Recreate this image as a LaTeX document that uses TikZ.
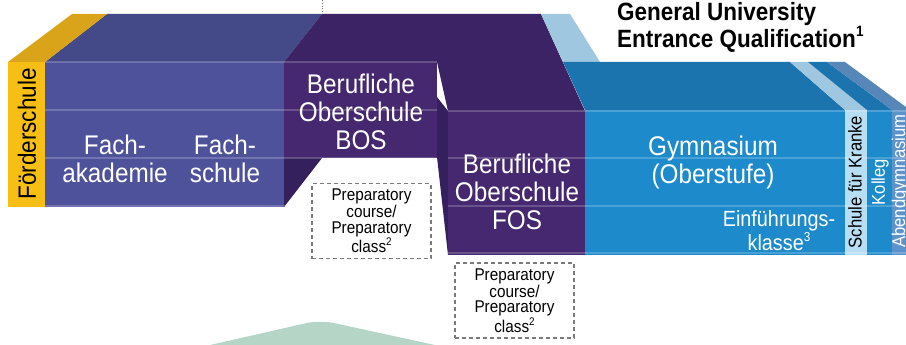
\documentclass[tikz,border=0pt]{standalone}
\usepackage{fontspec}
\setmainfont{Liberation Sans}[FakeStretch=0.9]
\definecolor{yelfront}{HTML}{F7BE13}
\definecolor{yeltop}{HTML}{D9A41A}
\definecolor{fachfront}{HTML}{4E529B}
\definecolor{fachtop}{HTML}{434A87}
\definecolor{purpfront}{HTML}{45286F}
\definecolor{purptop}{HTML}{3B2366}
\definecolor{purpdark}{HTML}{33205C}
\definecolor{gymfront}{HTML}{1D8ACB}
\definecolor{gymtop}{HTML}{1B74AE}
\definecolor{ltbluetop}{HTML}{9FC8E0}
\definecolor{sfkfront}{HTML}{B8DEF4}
\definecolor{abendfront}{HTML}{5C93CA}
\definecolor{abendtop}{HTML}{5787B8}
\definecolor{boxgray}{HTML}{7A7A7A}
\definecolor{hillgreen}{HTML}{B5D6C6}
\newcommand{\supnum}[2][11]{\raisebox{0.42em}{\fontsize{#1}{#1}\selectfont #2}}

\begin{document}
\begin{tikzpicture}[x=1pt,y=-1pt,
  lbl/.style={text=white,align=center,inner sep=0pt,font=\fontsize{27}{28}\selectfont},
  sidelbl/.style={rotate=90,inner sep=0pt,font=\fontsize{18.5}{20}\selectfont},
  prepbox/.style={draw=boxgray,line width=1.2pt,dash pattern=on 4pt off 3pt,
    minimum width=119pt,minimum height=75pt,inner sep=0pt,align=center,
    font=\fontsize{17}{15.6}\selectfont},
  rowline/.style={white,opacity=0.2,line width=1.3pt}]
  \useasboundingbox (0,0) rectangle (906,345);

  \fill[hillgreen,rounded corners=14pt] (188,350) -- (320,320) -- (458,350) -- cycle;
  \draw[boxgray,dotted,line width=0.8pt] (322,0) -- (322,13);

  \fill[fachtop] (45,62) -- (284,62) -- (322,14) -- (107,14) -- cycle;
  \fill[yeltop] (8,62) -- (45,62) -- (107,14) -- (72,14) -- cycle;
  \fill[yelfront] (8,62) rectangle (45,207);
  \fill[fachfront] (45,62) rectangle (285,207);
  \fill[purpdark] (284,158) -- (322,158) -- (284,207) -- cycle;

  \fill[purptop] (322,14) -- (541,14) -- (585,111) -- (448,111) -- (437,62) -- (284,62) -- cycle;
  \fill[ltbluetop] (541,14) -- (570,14) -- (600,62) -- (563,62) -- cycle;
  \fill[gymtop] (563,62) -- (790,62) -- (845,110) -- (585,110) -- cycle;
  \fill[ltbluetop] (790,62) -- (808,62) -- (867,110) -- (845,110) -- cycle;
  \fill[gymtop] (808,62) -- (827,62) -- (892,110) -- (867,110) -- cycle;
  \fill[abendtop] (827,62) -- (845,62) -- (910,110) -- (892,110) -- cycle;
  \fill[purpdark] (437,97) -- (448,111) -- (448,255) -- (437,157) -- cycle;

  \fill[purpfront] (284,62) rectangle (437,158);
  \fill[purpfront] (448,111) rectangle (585,255);
  \fill[gymfront] (585,110) rectangle (845,255);
  \fill[sfkfront] (845,110) rectangle (867,255);
  \fill[gymfront] (867,110) rectangle (892,255);
  \fill[abendfront] (892,110) rectangle (906,255);

  \draw[rowline] (45,62) -- (437,62);
  \draw[rowline] (45,110) -- (437,110);
  \draw[rowline] (45,158) -- (437,158);
  \draw[rowline] (45,206) -- (285,206);
  \draw[rowline] (448,111) -- (906,111);
  \draw[rowline] (448,158) -- (906,158);
  \draw[rowline] (448,206) -- (906,206);
  \draw[rowline] (448,253) -- (906,253);

  \node[sidelbl,font=\fontsize{25}{26}\selectfont] (fds) at (27,134) {Förderschule};
  \node[lbl] (fakad) at (115,159) {Fach-\\akademie};
  \node[lbl] (fschule) at (225,159) {Fach-\\schule};
  \node[lbl] (bos) at (361,112) {Berufliche\\Oberschule\\BOS};
  \node[lbl] (fos) at (517,192) {Berufliche\\Oberschule\\FOS};
  \node[lbl] (gym) at (713,163) {Gymnasium\\(Oberstufe)};
  \node[lbl,font=\fontsize{22}{22}\selectfont] (efk) at (779,231) {Einführungs-\\klasse\supnum[13]{3}};
  \node[sidelbl] (sfk) at (855,182) {Schule für Kranke};
  \node[sidelbl,text=white] (kolleg) at (880,182) {Kolleg};
  \node[sidelbl,text=white,anchor=base west] (abend) at (905,248) {Abendgymnasium};

  \node[anchor=north west,align=left,inner sep=0pt,font=\bfseries\fontsize{25}{27}\selectfont] (guq) at (617,2) {General University\\Entrance Qualification\supnum[15]{1}};

  \node[prepbox] (prepa) at (371.5,221) {Preparatory\\course/\\Preparatory\\class\supnum{2}};
  \node[prepbox] (prepb) at (514.5,300.5) {Preparatory\\course/\\Preparatory\\class\supnum{2}};
\end{tikzpicture}
\end{document}
